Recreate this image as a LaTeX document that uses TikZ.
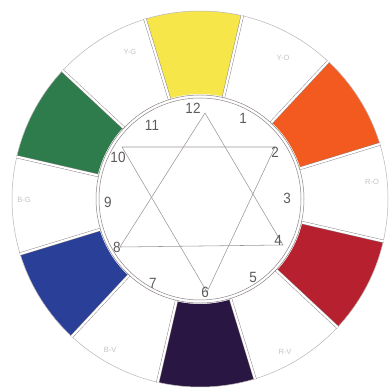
\documentclass[tikz,border=0pt]{standalone}
\usepackage{fontspec}
\setmainfont{Liberation Sans}
\usetikzlibrary{calc}
\definecolor{cY}{HTML}{F7E64A}
\definecolor{cO}{HTML}{F25A20}
\definecolor{cR}{HTML}{B6202F}
\definecolor{cP}{HTML}{2A1643}
\definecolor{cB}{HTML}{2A3F97}
\definecolor{cG}{HTML}{2E7B4B}
\definecolor{lineg}{HTML}{8C8486}
\definecolor{numg}{HTML}{5E5A5C}
\definecolor{labg}{HTML}{C8C2C4}
\tikzset{
  sep/.style={draw=lineg, line width=0.45pt, double=white, double distance=2.2pt},
  ring/.style={draw=lineg, line width=0.5pt},
  starline/.style={draw=lineg!85, line width=0.55pt},
  num/.style={text=numg, font=\fontsize{13.5}{13.5}\selectfont, inner sep=0pt, yscale=1.1},
  seglab/.style={text=labg, font=\fontsize{7.5}{7.5}\selectfont, inner sep=0pt}
}
\begin{document}
\begin{tikzpicture}[x=1pt,y=1pt]
\useasboundingbox (0,0) rectangle (390,390);
\fill[white] (0,0) rectangle (390,390);
\coordinate (C) at (200,191);
% segments
\foreach \k/\col in {0/cY,1/white,2/cO,3/white,4/cR,5/white,6/cP,7/white,8/cB,9/white,10/cG,11/white} {
  \pgfmathsetmacro\a{92-30*\k-15}
  \pgfmathsetmacro\b{\a+30}
  \fill[\col] ($(C)+(\a:105pt)$) arc[start angle=\a, end angle=\b, radius=105pt]
     -- ($(C)+(\b:188pt)$) arc[start angle=\b, end angle=\a, radius=188pt] -- cycle;
}
% outer circle
\draw[draw=lineg!60, line width=0.5pt] (C) circle[radius=188pt];
% separators
\foreach \k in {0,...,11} {
  \pgfmathsetmacro\t{92+15-30*\k}
  \draw[sep] ($(C)+(\t:104pt)$) -- ($(C)+(\t:188.5pt)$);
}
% inner disk
\fill[white] (C) circle[radius=104pt];
\draw[ring] (C) circle[radius=104pt];
\draw[ring] (C) circle[radius=101pt];
% star
\coordinate (v12) at (205,277);
\coordinate (v4) at (283,145);
\coordinate (v8) at (120,143);
\coordinate (v10) at (122,243);
\coordinate (v2) at (275,243);
\coordinate (v6) at (207,98);
\draw[starline] (v12) -- (v4) -- (v8) -- cycle;
\draw[starline] (v10) -- (v2) -- (v6) -- cycle;
% numbers
\node[num] (n12) at (193,282) {12};
\node[num] (n1) at (243,272) {1};
\node[num] (n2) at (275,238) {2};
\node[num] (n3) at (287,192) {3};
\node[num] (n4) at (278,150) {4};
\node[num] (n5) at (253,113) {5};
\node[num] (n6) at (205,98) {6};
\node[num] (n7) at (153,107) {7};
\node[num] (n8) at (117,143) {8};
\node[num] (n9) at (108,188) {9};
\node[num] (n10) at (118,233) {10};
\node[num] (n11) at (152,265) {11};
% segment labels
\node[seglab] (lYG) at (130,338) {Y-G};
\node[seglab] (lYO) at (283,332) {Y-O};
\node[seglab] (lRO) at (372,208) {R-O};
\node[seglab] (lRV) at (285,38) {R-V};
\node[seglab] (lBV) at (110,40) {B-V};
\node[seglab] (lBG) at (24,190) {B-G};
\end{tikzpicture}
\end{document}
